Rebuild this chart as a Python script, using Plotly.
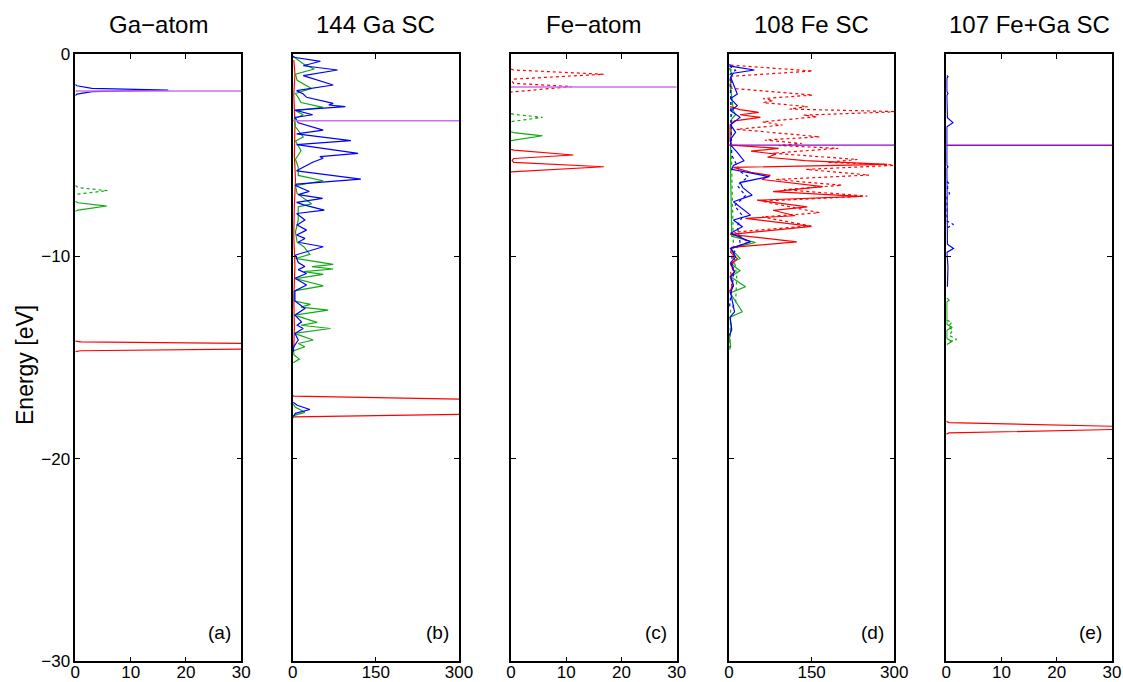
import plotly.graph_objects as go

# ---------------- data (energy in eV, DOS values) ----------------
# Panel (a) Ga-atom
a_p_up_E = [-1.5, -1.57, -1.7, -1.78, -1.86, -1.98, -2.05]
a_p_up_D = [0, 0.3, 3, 16.8, 3, 0.3, 0]
a_s_dn_E = [-6.5, -6.6, -6.75, -6.92, -7.0]
a_s_dn_D = [0, 0.5, 5.8, 0.5, 0]
a_s_up_E = [-7.28, -7.35, -7.51, -7.71, -7.78]
a_s_up_D = [0, 0.5, 5.7, 0.5, 0]
a_d_up_E = [-14.18, -14.22, -14.29, -14.43, -14.58, -14.66, -14.7]
a_d_up_D = [0, 1, 30, 2000, 30, 1, 0]
a_fermi = -1.83

# Panel (b) 144 Ga SC
b_p_E = [-0.1, -0.16, -0.36, -0.58, -0.79, -1.07, -1.53, -1.81, -1.98, -2.14, -2.44, -2.52, -2.6,
         -2.77, -3.0, -3.13, -3.4, -3.76, -3.95, -4.28, -4.48, -4.91, -5.07, -5.15, -5.35,
         -5.6, -5.77, -6.18, -6.43, -6.5, -6.79, -6.95, -7.13, -7.33, -7.45, -7.71, -7.88,
         -8.2, -8.45, -8.7, -8.94, -9.11, -9.3, -9.52, -9.93, -10.3, -10.5, -10.65, -10.84,
         -11.08, -11.41, -11.7, -12.2, -12.57, -12.9, -13.23, -13.4, -13.56, -13.8, -14.13,
         -14.46, -14.7]
b_p_D = [1, 2, 50, 19, 81, 19, 73, 7, 19, 25, 73, 65, 95,
         4, 36, 4, 10, 55, 7, 105, 7, 118, 49, 55, 36,
         19, 7, 123, 7, 5, 30, 10, 54, 7, 20, 57, 7,
         22, 8, 25, 7, 22, 10, 55, 5, 10, 22, 10, 25,
         4, 25, 4, 4, 22, 4, 16, 8, 19, 4, 10,
         2, 1]
b_p2_E = [-17.2, -17.35, -17.56, -17.75, -17.9]
b_p2_D = [1, 8, 31, 5, 1]
b_s_E = [-0.1, -0.2, -0.5, -0.74, -1.0, -1.3, -1.7, -1.95, -2.15, -2.4, -2.64, -2.8, -3.0, -3.2,
         -3.6, -4.1, -4.3, -4.78, -5.2, -5.6, -6.0, -6.26, -6.5, -6.9, -7.4, -7.55, -7.8,
         -8.2, -8.8, -9.3, -9.52, -9.9, -10.1, -10.39, -10.5, -10.62, -10.75, -10.89, -11.1,
         -11.45, -11.7, -12.2, -12.37, -12.5, -12.65, -12.9, -13.26, -13.4, -13.56, -13.8,
         -14.13, -14.3, -14.46, -14.65, -14.85, -15.07, -15.25]
b_s_D = [1, 5, 20, 39, 5, 8, 34, 5, 10, 15, 55, 5, 19, 3,
         5, 19, 5, 15, 5, 10, 10, 55, 5, 8, 34, 10, 10,
         10, 5, 8, 20, 31, 5, 73, 35, 73, 20, 55, 5,
         55, 3, 3, 32, 15, 64, 3, 44, 15, 68, 3,
         37, 10, 22, 2, 2, 12, 1]
b_s2_E = [-17.3, -17.45, -17.7, -17.85, -17.95]
b_s2_D = [1, 5, 22, 3, 1]
b_d_E = [-0.3, -1.0, -2.0, -3.5, -5.0, -6.2, -7.5, -9.0, -10.5, -12.0, -13.5, -14.5]
b_d_D = [2, 4, 2, 4, 3, 5, 3, 2, 4, 2, 3, 2]
b_d2_E = [-16.85, -16.9, -17.05, -17.4, -17.8, -17.93, -17.98]
b_d2_D = [0, 2, 300, 5000, 300, 2, 0]
b_fermi = -3.3

# Panel (c) Fe-atom
c_d_dn_E = [-0.75, -0.79, -1.0, -1.24, -1.35, -1.45, -1.61, -1.84, -1.88]
c_d_dn_D = [0, 0.5, 16.8, 0.5, 0.2, 0.5, 11.0, 0.5, 0]
c_s_dn_E = [-2.94, -2.98, -3.13, -3.3, -3.34]
c_s_dn_D = [0, 0.5, 5.7, 0.5, 0]
c_s_up_E = [-3.84, -3.88, -4.04, -4.24, -4.28]
c_s_up_D = [0, 0.5, 5.7, 0.5, 0]
c_d_up_E = [-4.71, -4.75, -4.99, -5.16, -5.25, -5.35, -5.57, -5.78, -5.82]
c_d_up_D = [0, 0.5, 11.3, 0.5, 0.2, 0.5, 16.8, 0.5, 0]
c_fermi = -1.63

# Panel (d) 108 Fe SC
d_d_up_E = [-2.6, -2.75, -2.88, -3.0, -3.13, -3.3, -3.5, -4.3, -4.5, -4.66, -4.8, -4.95,
            -5.1, -5.27, -5.45, -5.6, -5.85, -6.0, -6.2, -6.55, -6.8, -7.03, -7.22, -7.55,
            -7.72, -7.99, -8.12, -8.52, -8.91, -9.28, -9.55, -9.8, -10.1, -10.4, -10.75, -11.0,
            -11.45, -11.7]
d_d_up_D = [2, 20, 54, 20, 57, 10, 2, 2, 5, 90, 40, 85,
            70, 138, 287, 8, 40, 75, 60, 170, 80, 238, 51, 142,
            80, 120, 30, 150, 2, 123, 5, 3, 15, 3, 10, 2,
            8, 1]
d_d_dn_E = [-0.55, -0.84, -1.1, -1.7, -2.03, -2.2, -2.3, -2.4, -2.6, -2.72, -2.85, -3.02,
            -3.1, -3.35, -3.51, -3.72, -4.09, -4.25, -4.42, -4.52, -4.66, -4.9, -5.21, -5.35,
            -5.49, -5.7, -5.98, -6.2, -6.48, -6.7, -7.02, -7.27, -7.6, -7.84, -8.05, -8.49,
            -8.8, -9.3, -9.6, -10.5, -10.7, -11.5, -11.8]
d_d_dn_D = [3, 152, 4, 5, 152, 62, 80, 62, 143, 110, 310, 135,
            160, 61, 97, 14, 165, 65, 132, 90, 198, 80, 233, 180,
            310, 140, 254, 85, 205, 100, 251, 60, 120, 164, 60, 148,
            10, 35, 5, 10, 3, 5, 1]
d_p_up_E = [-0.5, -0.6, -0.79, -0.95, -1.15, -1.98, -2.2, -2.55, -2.8, -3.13, -3.5, -3.87, -4.2,
            -4.5, -4.86, -5.27, -5.5, -5.7, -6.06, -6.35, -6.6, -6.97, -7.3, -7.96, -8.2,
            -8.53, -8.85, -9.28, -9.6, -10.02, -10.3, -10.76, -11.0, -11.42, -11.8, -12.74,
            -13.0, -13.6, -13.9]
d_p_up_D = [1, 3, 46, 8, 3, 15, 3, 15, 3, 20, 3, 12, 3,
            3, 15, 27, 8, 5, 73, 20, 25, 42, 8, 39, 8,
            24, 3, 39, 3, 12, 3, 10, 3, 8, 3, 10,
            2, 5, 1]
d_p_dn_E = [-0.6, -0.8, -1.0, -5.0, -5.8, -6.06, -6.5, -7.0, -7.5, -8.0, -8.5, -9.3, -10.0,
            -11.0, -12.0, -12.5]
d_p_dn_D = [1, 12, 2, 5, 20, 35, 15, 30, 10, 25, 15, 20, 5,
            8, 3, 1]
d_s_up_E = [-0.7, -1.0, -1.5, -2.8, -3.0, -3.2, -4.6, -6.0, -9.0, -9.31, -9.6, -10.1, -10.35,
            -10.71, -11.0, -11.5, -11.8, -12.73, -13.0, -13.56, -14.0, -14.47, -14.6]
d_s_up_D = [1, 5, 2, 8, 12, 5, 3, 3, 5, 48, 3, 20, 3,
            20, 3, 30, 2, 24, 2, 4, 1, 3, 1]
d_s_dn_E = [-0.7, -0.9, -1.2, -2.9, -3.2, -9.5, -10.2, -11.0, -12.3, -12.6, -14.0, -14.5]
d_s_dn_D = [1, 8, 3, 6, 3, 8, 10, 14, 12, 3, 2, 1]
d_fermi = -4.5

# Panel (e) 107 Fe+Ga SC
e_p_up_E = [-1.05, -1.12, -1.2, -1.85, -1.94, -2.05, -3.15, -3.39, -3.6, -5.5, -5.57, -5.65,
            -9.4, -9.61, -9.8, -10.5, -11.5]
e_p_up_D = [0.1, 0.3, 0.1, 0.1, 0.3, 0.1, 0.2, 1.2, 0.1, 0.1, 0.3, 0.1,
            0.2, 1.3, 0.1, 0.3, 0.2]
e_p_dn_E = [-6.3, -6.4, -6.6, -6.9, -7.0, -8.25, -8.42, -8.6]
e_p_dn_D = [0.1, 0.5, 0.2, 0.6, 0.1, 0.1, 1.3, 0.1]
e_s_up_E = [-12.05, -12.16, -12.25, -13.35, -13.5, -13.65, -14.05, -14.2, -14.35]
e_s_up_D = [0.1, 0.5, 0.1, 0.1, 1.0, 0.1, 0.1, 1.0, 0.1]
e_s_dn_E = [-13.15, -13.25, -13.45, -13.65, -13.9, -14.1, -14.25]
e_s_dn_D = [0.1, 1.0, 0.4, 1.2, 0.5, 1.9, 0.1]
e_d_up_E = [-18.15, -18.21, -18.39, -18.47, -18.55, -18.72, -18.78]
e_d_up_D = [0, 0.5, 30, 500, 30, 0.5, 0]
e_fermi = -4.51

titles = ["Ga\u2212atom", "144 Ga SC", "Fe\u2212atom", "108 Fe SC", "107 Fe+Ga SC"]
labels = ["(a)", "(b)", "(c)", "(d)", "(e)"]
x_maxes = [30, 300, 30, 300, 30]
x_ticks = [[0, 10, 20, 30], [0, 150, 300], [0, 10, 20, 30], [0, 150, 300], [0, 10, 20, 30]]
y_ticks = [0, -10, -20, -30]

# ---------------- styling ----------------
W, H = 1123, 682
RED, GREEN, BLUE = "#ff0000", "#11aa11", "#0000ff"
PURPLE_LIGHT = "#c86ef0"
PURPLE_DARK = "#9308c8"
panel_px = [(75.3, 241.3), (292.7, 459.0), (511.0, 676.7), (729.0, 894.3), (946.3, 1112.0)]
top_px, bot_px = 54.0, 661.3

fig = go.Figure()

curves = [
    (0, a_s_dn_E, a_s_dn_D, GREEN, "dot"),
    (0, a_s_up_E, a_s_up_D, GREEN, "solid"),
    (0, a_p_up_E, a_p_up_D, BLUE, "solid"),
    (0, a_d_up_E, a_d_up_D, RED, "solid"),
    (1, b_d_E, b_d_D, RED, "solid"),
    (1, b_d2_E, b_d2_D, RED, "solid"),
    (1, b_s_E, b_s_D, GREEN, "solid"),
    (1, b_s2_E, b_s2_D, GREEN, "solid"),
    (1, b_p_E, b_p_D, BLUE, "solid"),
    (1, b_p2_E, b_p2_D, BLUE, "solid"),
    (2, c_s_dn_E, c_s_dn_D, GREEN, "dot"),
    (2, c_s_up_E, c_s_up_D, GREEN, "solid"),
    (2, c_d_dn_E, c_d_dn_D, RED, "dot"),
    (2, c_d_up_E, c_d_up_D, RED, "solid"),
    (3, d_s_dn_E, d_s_dn_D, GREEN, "dot"),
    (3, d_s_up_E, d_s_up_D, GREEN, "solid"),
    (3, d_p_dn_E, d_p_dn_D, BLUE, "dot"),
    (3, d_d_dn_E, d_d_dn_D, RED, "dot"),
    (3, d_d_up_E, d_d_up_D, RED, "solid"),
    (3, d_p_up_E, d_p_up_D, BLUE, "solid"),
    (4, e_s_dn_E, e_s_dn_D, GREEN, "dot"),
    (4, e_s_up_E, e_s_up_D, GREEN, "solid"),
    (4, e_p_dn_E, e_p_dn_D, BLUE, "dot"),
    (4, e_p_up_E, e_p_up_D, BLUE, "solid"),
    (4, e_d_up_E, e_d_up_D, RED, "solid"),
]

def axname(i):
    return ("x" if i == 0 else f"x{i+1}"), ("y" if i == 0 else f"y{i+1}")

for p, E, D, col, dash in curves:
    xa, ya = axname(p)
    fig.add_trace(go.Scatter(x=D, y=E, mode="lines", xaxis=xa, yaxis=ya,
                             line=dict(color=col, width=1.2, dash=dash),
                             showlegend=False, hoverinfo="skip"))

fermis = [a_fermi, b_fermi, c_fermi, d_fermi, e_fermi]
fcols = [PURPLE_LIGHT, PURPLE_LIGHT, PURPLE_LIGHT, PURPLE_DARK, PURPLE_DARK]
for p in range(5):
    xa, ya = axname(p)
    fig.add_trace(go.Scatter(x=[0, x_maxes[p]], y=[fermis[p], fermis[p]], mode="lines",
                             xaxis=xa, yaxis=ya, line=dict(color=fcols[p], width=1.4),
                             showlegend=False, hoverinfo="skip"))

font = "Liberation Sans, Arial, Helvetica, sans-serif"
layout = dict(width=W, height=H, autosize=False,
              margin=dict(l=0, r=0, t=0, b=0, autoexpand=False),
              paper_bgcolor="white", plot_bgcolor="white",
              font=dict(family=font, size=17, color="black"),
              showlegend=False)

y0 = 1 - bot_px / H
y1 = 1 - top_px / H
annotations = []
for p in range(5):
    xl, xr = panel_px[p]
    xa, ya = axname(p)
    xkey = "xaxis" if p == 0 else f"xaxis{p+1}"
    ykey = "yaxis" if p == 0 else f"yaxis{p+1}"
    layout[xkey] = dict(domain=[xl / W, xr / W], anchor=ya, range=[0, x_maxes[p]],
                        tickvals=x_ticks[p], ticktext=[str(v) for v in x_ticks[p]],
                        ticks="inside", ticklen=5, tickcolor="black", tickwidth=1,
                        showline=True, linecolor="black", linewidth=1.5, mirror="ticks",
                        showgrid=False, zeroline=False, fixedrange=True, automargin=False,
                        ticklabelstandoff=-5,
                        layer="above traces", tickfont=dict(size=17))
    layout[ykey] = dict(domain=[y0, y1], anchor=xa, range=[-30, 0],
                        tickvals=y_ticks,
                        ticktext=["0", "\u221210", "\u221220", "\u221230"],
                        showticklabels=(p == 0),
                        ticks="inside", ticklen=5, tickcolor="black", tickwidth=1,
                        showline=True, linecolor="black", linewidth=1.5, mirror="ticks",
                        showgrid=False, zeroline=False, fixedrange=True, automargin=False,
                        layer="above traces", tickfont=dict(size=17))
    annotations.append(dict(text=titles[p], x=(xl + xr) / 2 / W, y=1 - 25 / H,
                            xref="paper", yref="paper", showarrow=False,
                            xanchor="center", yanchor="middle", font=dict(size=24)))
    annotations.append(dict(text=labels[p], x=(xr - 8) / W, y=1 - 632 / H,
                            xref="paper", yref="paper", showarrow=False,
                            xanchor="right", yanchor="middle", font=dict(size=19)))

annotations.append(dict(text="Energy [eV]", x=25 / W, y=1 - 365 / H, xref="paper", yref="paper",
                        showarrow=False, textangle=-90, xanchor="center", yanchor="middle",
                        font=dict(size=23)))
layout["annotations"] = annotations
fig.update_layout(**layout)

fig.write_html("out.html")
